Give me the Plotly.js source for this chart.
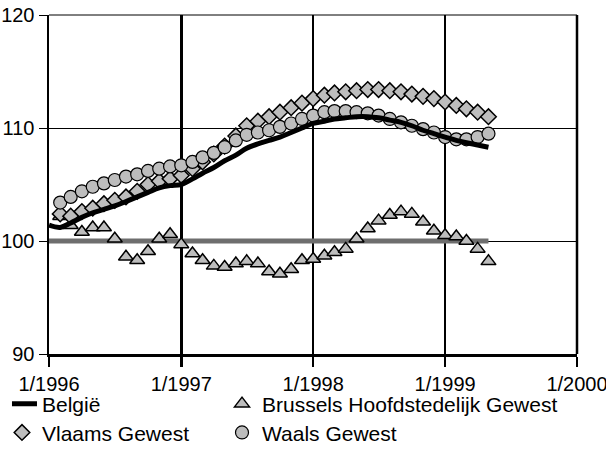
<!DOCTYPE html>
<html>
<head>
<meta charset="utf-8">
<script src="https://cdn.plot.ly/plotly-3.0.1.min.js"></script>
<style>html,body{margin:0;padding:0;background:#fff;}#chart{width:606px;height:465px;}</style>
</head>
<body>
<div id="chart"></div>
<script>
// Monthly dates: index 0 = 1/1996 ... index 40 = 5/1999
function monthDate(i){var y=1996+Math.floor(i/12),m=(i%12)+1;return y+'-'+(m<10?'0':'')+m+'-01';}

var belgieMonths = [0,1,2,3,4,5,6,7,8,9,10,11,12,13,14,15,16,17,18,19,20,21,22,23,24,25,26,27,28,29,30,31,32,33,34,35,36,37,38,39,40];
var belgie = [101.4,101.2,101.6,102.1,102.5,102.8,103.1,103.5,103.9,104.3,104.7,104.9,105.0,105.5,106.0,106.5,107.1,107.6,108.2,108.6,108.9,109.2,109.6,110.0,110.4,110.6,110.8,110.9,111.0,111.0,110.9,110.7,110.5,110.2,109.8,109.5,109.2,108.9,108.7,108.5,108.3];

var regionMonths = [1,2,3,4,5,6,7,8,9,10,11,12,13,14,15,16,17,18,19,20,21,22,23,24,25,26,27,28,29,30,31,32,33,34,35,36,37,38,39,40];
var brussels = [102.2,101.4,100.8,101.2,101.2,100.2,98.6,98.3,99.1,100.2,100.6,99.7,98.9,98.3,97.8,97.7,98.0,98.2,98.0,97.3,97.1,97.5,98.3,98.4,98.7,99.0,99.3,100.2,101.1,101.8,102.3,102.6,102.4,101.7,100.9,100.5,100.4,100.0,99.3,98.2];
var vlaams = [102.4,102.2,102.6,102.9,103.3,103.6,103.9,104.4,105.0,105.3,105.5,105.8,106.4,107.0,107.7,108.4,109.3,110.2,110.6,111.0,111.4,111.8,112.2,112.6,112.9,113.1,113.2,113.3,113.4,113.4,113.3,113.2,113.0,112.8,112.6,112.3,112.0,111.7,111.4,111.0];
var waals = [103.4,103.9,104.4,104.8,105.1,105.4,105.7,105.9,106.2,106.4,106.6,106.7,107.0,107.4,107.8,108.3,108.9,109.4,109.6,109.8,110.1,110.4,110.8,111.1,111.4,111.5,111.5,111.4,111.3,111.1,110.8,110.5,110.2,109.9,109.6,109.2,109.0,109.0,109.2,109.5];

var baseMonths = [0,40];
var baseValues = [100,100];

var tickDates = ['1996-01-01','1997-01-01','1998-01-01','1999-01-01','2000-01-01'];
var tickLabels = ['1/1996','1/1997','1/1998','1/1999','1/2000'];
var yTicks = [90,100,110,120];

var seriesNames = ['België','Brussels Hoofdstedelijk Gewest','Vlaams Gewest','Waals Gewest'];

var bx = belgieMonths.map(monthDate);
var rx = regionMonths.map(monthDate);
var markerFill = '#bdbdbd';

var traces = [
  {x: baseMonths.map(monthDate), y: baseValues, mode:'lines', line:{color:'#6e6e6e', width:5}, showlegend:false, hoverinfo:'skip'},
  {x: rx, y: brussels, name: seriesNames[1], mode:'markers', legend:'legend2',
   marker:{symbol:'triangle-up', size:13, color:markerFill, line:{color:'#000', width:1.5}}},
  {x: rx, y: vlaams, name: seriesNames[2], mode:'markers', legend:'legend3',
   marker:{symbol:'diamond', size:12, color:markerFill, line:{color:'#000', width:1.5}}},
  {x: rx, y: waals, name: seriesNames[3], mode:'markers', legend:'legend4',
   marker:{symbol:'circle', size:13, color:markerFill, line:{color:'#000', width:1.2}}},
  {x: bx, y: belgie, name: seriesNames[0], mode:'lines', legend:'legend',
   line:{color:'#000', width:5, shape:'spline'}}
];

var tickFont = {family:'Liberation Sans, Arial, sans-serif', size:20, color:'#000'};
var legFont = {family:'Liberation Sans, Arial, sans-serif', size:21, color:'#000'};
function leg(x, y){
  return {orientation:'v', x:x, xanchor:'left', y:y, yanchor:'top',
    indentation:-10, font:legFont, bgcolor:'rgba(0,0,0,0)', borderwidth:0};
}

var layout = {
  width:606, height:465,
  margin:{l:49, r:29, t:15, b:111},
  paper_bgcolor:'#fff', plot_bgcolor:'#fff',
  font: tickFont,
  showlegend:true,
  xaxis:{type:'date', range:['1996-01-01','2000-01-01'], tickmode:'array', tickvals:tickDates, ticktext:tickLabels,
    showgrid:true, gridcolor:'#000', gridwidth:2.5, showline:true, linecolor:'#000', linewidth:2.5,
    ticks:'outside', ticklen:10, tickwidth:2.5, tickcolor:'#000', zeroline:false, tickfont:tickFont, fixedrange:true,
    automargin:false, ticklabeloverflow:'allow'},
  yaxis:{range:[90,120], tickmode:'array', tickvals:yTicks, showgrid:true, gridcolor:'#000', gridwidth:1,
    showline:true, linecolor:'#000', linewidth:2.5, ticks:'outside', ticklen:8, tickwidth:1, tickcolor:'#000',
    zeroline:false, tickfont:tickFont, fixedrange:true, automargin:false, ticklabeloverflow:'allow'},
  legend: leg(-0.0701, -0.087),
  legend2: leg(0.3466, -0.087),
  legend3: leg(-0.0701, -0.172),
  legend4: leg(0.3466, -0.172),
  shapes:[
    {type:'line', xref:'paper', yref:'paper', x0:0, x1:1, y0:1, y1:1, line:{color:'#000', width:1}},
    {type:'line', xref:'paper', yref:'paper', x0:1, x1:1, y0:0, y1:1, line:{color:'#000', width:2.5}}
  ]
};

Plotly.newPlot('chart', traces, layout, {displayModeBar:false, staticPlot:true});
</script>
</body>
</html>
